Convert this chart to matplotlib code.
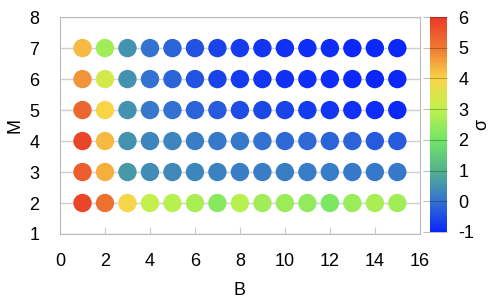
import numpy as np
import matplotlib.pyplot as plt
from matplotlib.colors import LinearSegmentedColormap

plt.rcParams['font.family'] = ['Liberation Sans', 'DejaVu Sans']
plt.rcParams['axes.unicode_minus'] = False

# B positions and M rows
b_vals = list(range(1, 16))
m_vals = [2, 3, 4, 5, 6, 7]

# sigma per row (M=2..7), B = 1..15
sigma_m2 = [5.8, 5.1, 3.9, 3.1, 2.9, 2.7, 2.3, 2.9, 2.6, 2.5, 2.4, 2.1, 2.5, 2.7, 2.6]
sigma_m3 = [5.4, 4.4, 0.6, 0.4, 0.35, 0.3, 0.25, 0.2, 0.2, 0.2, 0.15, 0.15, 0.1, 0.1, 0.1]
sigma_m4 = [5.8, 4.3, 0.5, 0.3, 0.3, 0.2, 0.1, 0.1, 0.0, -0.1, -0.1, -0.2, -0.2, -0.3, -0.3]
sigma_m5 = [5.3, 4.0, 0.5, 0.1, 0.0, -0.2, -0.3, -0.5, -0.55, -0.6, -0.7, -0.8, -0.85, -0.9, -0.95]
sigma_m6 = [4.7, 3.3, 0.5, 0.0, -0.2, -0.4, -0.6, -0.7, -0.8, -0.85, -0.9, -0.9, -0.95, -0.95, -0.95]
sigma_m7 = [4.3, 2.6, 0.5, 0.0, -0.2, -0.4, -0.6, -0.7, -0.8, -0.85, -0.9, -0.9, -0.95, -0.95, -0.95]
sigma_rows = [sigma_m2, sigma_m3, sigma_m4, sigma_m5, sigma_m6, sigma_m7]

cmap = LinearSegmentedColormap.from_list('sig', [
    (0.0, (0.04, 0.15, 0.98)),
    (1/7, (0.20, 0.45, 0.82)),
    (2/7, (0.33, 0.70, 0.55)),
    (3/7, (0.45, 0.90, 0.40)),
    (4/7, (0.75, 0.95, 0.30)),
    (5/7, (0.98, 0.83, 0.28)),
    (6/7, (0.93, 0.48, 0.20)),
    (1.0, (0.92, 0.22, 0.15)),
])

fig = plt.figure(figsize=(4.98, 3.0), dpi=100)
ax = fig.add_axes([0.1205, 0.22, 0.7225, 0.723])
cax = fig.add_axes([0.864, 0.227, 0.034, 0.716])

for m, row in zip(m_vals, sigma_rows):
    sc = ax.scatter(b_vals, [m] * len(b_vals), c=row, cmap=cmap, vmin=-1, vmax=6,
                    s=175, edgecolors='none', zorder=3)

ax.set_xlim(0, 16)
ax.set_ylim(1, 8)
ax.set_xticks(range(0, 17, 2))
ax.set_yticks(range(1, 9))
ax.grid(axis='y', color='#d0d0d0', linewidth=1, zorder=0)
for s in ax.spines.values():
    s.set_color('#bbbbbb')
ax.tick_params(axis='x', direction='in', length=5, color='#cccccc', labelsize=13, pad=14)
ax.tick_params(axis='y', length=0, labelsize=13, pad=15)
ax.set_xlabel('B', fontsize=13, labelpad=8)
ax.set_ylabel('M', fontsize=13, labelpad=4)

cb = fig.colorbar(sc, cax=cax, ticks=range(-1, 7))
cb.outline.set_visible(False)
cb.ax.tick_params(direction='in', length=17, color=(0, 0, 0, 0.25), labelsize=13, pad=8)
cb.set_label('σ', fontsize=13, labelpad=-1)

fig.savefig('out.png', dpi=100)
